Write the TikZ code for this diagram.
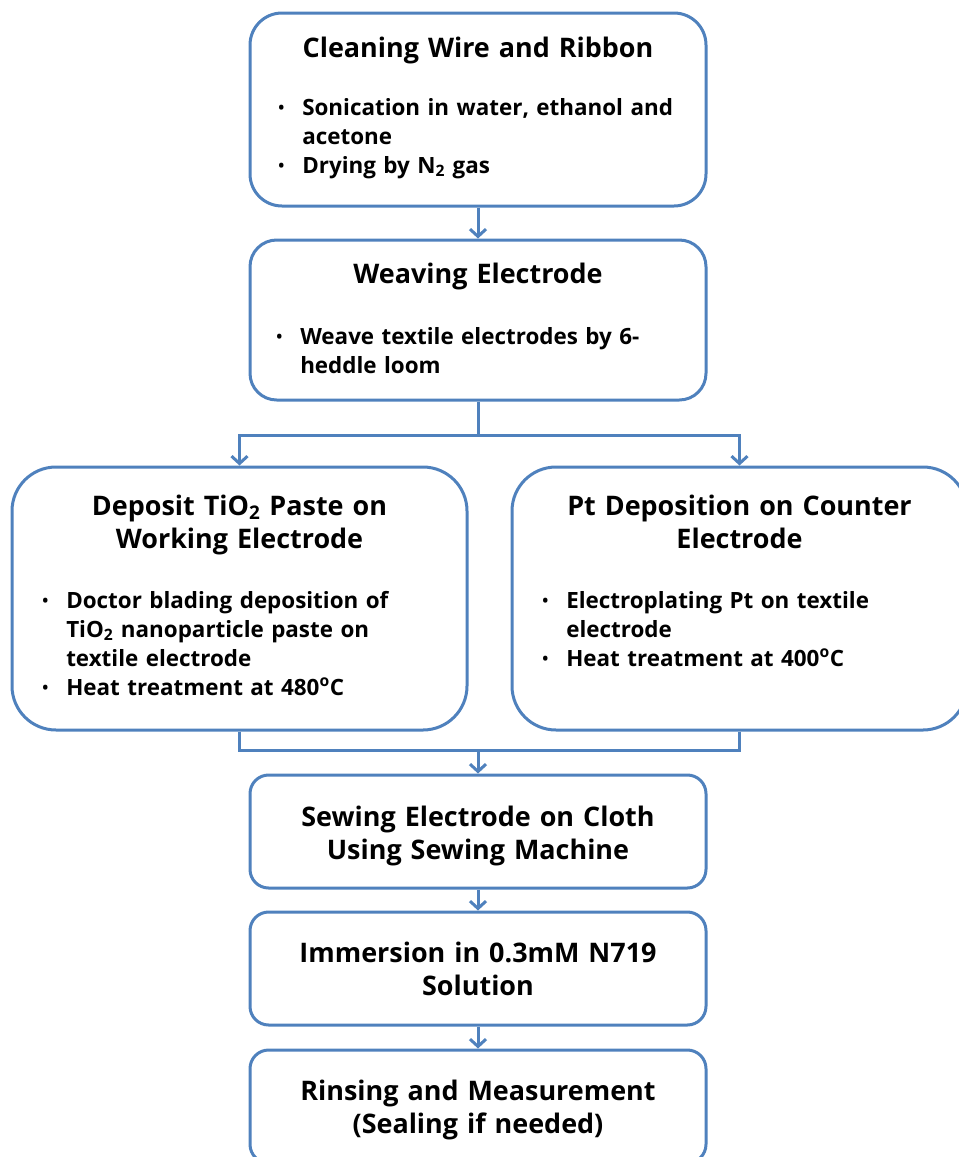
\documentclass[tikz,border=0pt]{standalone}
\usepackage{fontspec}
\setmainfont{Open Sans}
\usetikzlibrary{arrows.meta,positioning}
\definecolor{flowblue}{RGB}{79,129,189}
\newcommand{\blt}{\makebox[18pt][l]{\raisebox{1pt}{\fontsize{12}{12}\selectfont\textbullet}}}
\newcommand{\nob}{\hspace*{18pt}}

\begin{document}
\begin{tikzpicture}[x=0.75pt,y=-0.75pt,
		box/.style={draw=flowblue,line width=2.25pt,fill=white,inner sep=0pt},
		ttl/.style={anchor=base,inner sep=0pt,text width=330pt,align=center,font=\fontsize{20.2}{24.75}\selectfont\bfseries},
		lst/.style={anchor=base west,inner sep=0pt,text width=330pt,align=left,font=\fontsize{16.8}{21.75}\selectfont\bfseries},
		wire/.style={draw=flowblue,line width=2.25pt},
		arr/.style={wire,-{Straight Barb[length=5.5pt,width=12pt,line width=2.25pt]}}]
		\useasboundingbox (0,0) rectangle (958,1157);
		% boxes
		\node[box,rounded corners=24pt,minimum width=342pt,minimum height=144.75pt] (clean) at (478,109.5) {};
		\node[box,rounded corners=20pt,minimum width=342pt,minimum height=120pt] (weave) at (478,320) {};
		\node[box,rounded corners=33pt,minimum width=341.25pt,minimum height=197.25pt] (tio) at (239.5,598.5) {};
		\node[box,rounded corners=33pt,minimum width=341.25pt,minimum height=197.25pt] (pt) at (739.5,598.5) {};
		\node[box,rounded corners=14pt,minimum width=342pt,minimum height=84.75pt] (sew) at (478,831.5) {};
		\node[box,rounded corners=14pt,minimum width=342pt,minimum height=84.75pt] (dye) at (478,968.5) {};
		\node[box,rounded corners=14pt,minimum width=342pt,minimum height=84.75pt] (rinse) at (478,1106.5) {};
		% titles
		\node[ttl] (cleant) at (478,57) {Cleaning Wire and Ribbon};
		\node[ttl] (weavet) at (478,283) {Weaving Electrode};
		\node[ttl] (tiot) at (239.5,515) {Deposit TiO\textsubscript{2} Paste on\\Working Electrode};
		\node[ttl] (ptt) at (739.5,515) {Pt Deposition on Counter\\Electrode};
		\node[ttl] (sewt) at (478,826) {Sewing Electrode on Cloth\\Using Sewing Machine};
		\node[ttl] (dyet) at (478,962) {Immersion in 0.3mM N719\\Solution};
		\node[ttl] (rinset) at (478,1100) {Rinsing and Measurement\\(Sealing if needed)};
		% bullet lists
		\node[lst] (cleanl) at (278,115) {\blt Sonication in water, ethanol and\\\nob acetone\\\blt Drying by N\textsubscript{2} gas};
		\node[lst] (weavel) at (276,344) {\blt Weave textile electrodes by 6-\\\nob heddle loom};
		\node[lst] (tiol) at (42,608) {\blt Doctor blading deposition of\\\nob TiO\textsubscript{2} nanoparticle paste on\\\nob textile electrode\\\blt Heat treatment at 480\textsuperscript{o}C};
		\node[lst] (ptl) at (542,608) {\blt Electroplating Pt on textile\\\nob electrode\\\blt Heat treatment at 400\textsuperscript{o}C};
		% connectors
		\coordinate (split) at (478,435);
		\coordinate (join) at (478,750);
		\draw[arr] (clean) -- (weave);
		\draw[wire] (weave) -- (split);
		\draw[arr] (split) -| (tio.north);
		\draw[arr] (split) -| (pt.north);
		\draw[wire] (tio.south) |- (join);
		\draw[wire] (pt.south) |- (join);
		\draw[arr] (join) -- (sew);
		\draw[arr] (sew) -- (dye);
		\draw[arr] (dye) -- (rinse);
	\end{tikzpicture}
\end{document}
